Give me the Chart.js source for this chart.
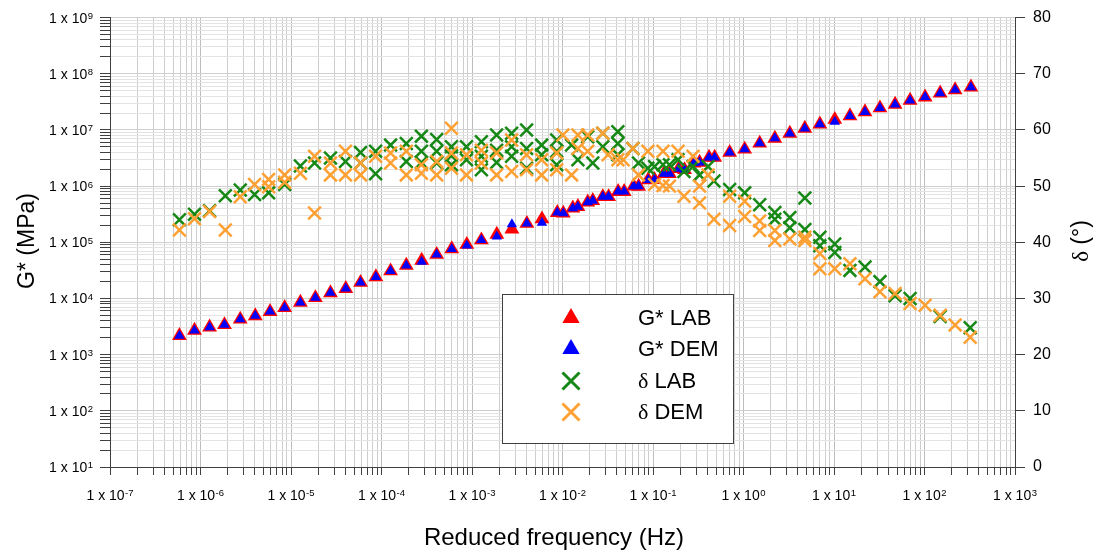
<!DOCTYPE html>
<html><head><meta charset="utf-8">
<script src="https://cdn.jsdelivr.net/npm/chart.js@4/dist/chart.umd.min.js"></script>
<style>html,body{margin:0;padding:0;background:#fff;}#wrap{width:1102px;height:553px;position:relative;}</style>
</head><body><div id="wrap"><canvas id="c" width="1102" height="553"></canvas></div>
<script>
// ---- tick definitions ----
const xDecades = [-7,-6,-5,-4,-3,-2,-1,0,1,2,3];
const yDecades = [1,2,3,4,5,6,7,8,9];
const minorMultipliers = [2,3,4,5,6,7,8,9];
const deltaTicks = [0,10,20,30,40,50,60,70,80];

// ---- G* data (MPa) ----
const freqG = [5.85e-7,8.58e-7,1.26e-6,1.84e-6,2.75e-6,4.03e-6,5.87e-6,8.51e-6,1.27e-5,1.86e-5,
  2.73e-5,4.03e-5,5.87e-5,8.67e-5,1.26e-4,1.88e-4,2.78e-4,4.07e-4,5.97e-4,8.76e-4,
  1.27e-3,1.88e-3,2.76e-3,4.04e-3,5.93e-3,8.76e-3,1.02e-2,1.30e-2,1.48e-2,1.90e-2,
  2.16e-2,2.79e-2,3.23e-2,4.12e-2,4.80e-2,6.11e-2,6.94e-2,8.85e-2,0.104,0.132,
  0.152,0.192,0.223,0.284,0.327,0.416,0.480,0.703,1.03,1.51,
  2.22,3.25,4.76,6.98,10.2,15.0,22.0,32.2,47.3,69.3,
  101.5,149,218,326];
const gLab = [2180,2700,3090,3400,4270,4910,5840,6870,8520,10300,
  12600,15000,19200,24200,30800,38800,47600,60700,76200,91100,
  109800,138000,171600,216000,259500,337800,328400,405400,430800,517300,
  549700,646600,646600,798400,798400,998000,990000,1289000,1305000,1664000,
  1664000,2039000,1957000,2568000,2642000,3237000,3237000,3965000,4533000,5783000,
  7084000,8677000,10630000,12650000,15310000,17790000,20930000,24610000,28490000,33510000,
  38460000,45240000,51730000,57700000];
const gDem = [2180,2700,3090,3400,4270,4910,5840,6870,8520,10300,
  12600,15000,19200,24200,30800,38800,45000,60700,76200,88000,
  109800,127000,210000,216000,222000,337800,328400,405400,430800,517300,
  549700,646600,646600,798400,798400,998000,990000,1289000,1305000,1664000,
  1664000,2039000,1957000,2568000,2642000,3237000,3237000,3965000,4533000,5783000,
  7084000,8677000,10630000,12650000,14000000,17790000,20930000,24610000,28490000,33510000,
  38460000,45240000,51730000,57700000];

// ---- phase angle data (deg) ----
const freqDLab = [5.85e-7,8.58e-7,1.26e-6,1.88e-6,2.75e-6,3.96e-6,5.66e-6,8.51e-6,1.27e-5,1.82e-5,
  2.73e-5,4.0e-5,5.87e-5,5.87e-5,8.6e-5,8.6e-5,1.26e-4,1.88e-4,1.88e-4,2.76e-4,
  2.76e-4,2.76e-4,4.07e-4,4.07e-4,4.07e-4,5.93e-4,5.93e-4,5.93e-4,8.69e-4,8.69e-4,
  1.27e-3,1.27e-3,1.27e-3,1.87e-3,1.87e-3,1.87e-3,2.74e-3,2.74e-3,2.74e-3,4.01e-3,
  4.01e-3,4.01e-3,5.88e-3,5.88e-3,8.63e-3,8.63e-3,8.63e-3,1.26e-2,1.48e-2,1.9e-2,
  2.16e-2,2.79e-2,2.79e-2,4.09e-2,4.09e-2,4.09e-2,5.99e-2,6.91e-2,8.78e-2,0.104,
  0.129,0.152,0.189,0.22,0.277,0.327,0.406,0.472,0.703,1.03,
  1.51,2.22,2.22,3.25,3.25,4.76,4.76,6.98,6.98,10.2,
  10.2,15.0,22.0,32.2,47.3,69.3,149,320];
const deltaLab = [44.0,45.0,45.6,48.3,49.3,48.5,48.8,50.3,53.6,54.1,
  55.0,54.4,56.0,54.1,56.2,52.2,57.3,57.6,54.4,58.9,
  56.2,54.2,58.3,56.2,54.1,57.0,55.4,53.8,57.0,54.7,
  57.9,55.3,52.9,59.1,56.4,54.2,59.4,57.0,55.3,60.0,
  56.7,53.2,57.3,55.6,58.2,56.2,53.8,57.3,54.7,58.8,
  54.1,59.4,57.0,59.7,57.6,55.6,56.7,54.1,53.2,53.5,
  53.8,53.8,54.7,52.6,53.5,52.0,53.5,50.9,49.4,48.8,
  46.7,45.3,44.1,44.4,42.6,47.9,42.3,40.9,39.4,39.7,
  38.2,35.0,35.6,33.0,30.5,30.0,26.8,24.8];
const freqDDem = [5.85e-7,8.58e-7,1.26e-6,1.88e-6,2.75e-6,3.96e-6,5.66e-6,5.66e-6,8.51e-6,8.51e-6,
  1.27e-5,1.82e-5,1.82e-5,2.73e-5,2.73e-5,4.0e-5,4.0e-5,5.87e-5,5.87e-5,8.6e-5,
  1.26e-4,1.26e-4,1.88e-4,1.88e-4,2.76e-4,2.76e-4,4.07e-4,4.07e-4,5.93e-4,5.93e-4,
  5.93e-4,8.69e-4,8.69e-4,1.27e-3,1.27e-3,1.87e-3,1.87e-3,2.74e-3,2.74e-3,4.01e-3,
  4.01e-3,5.88e-3,5.88e-3,8.63e-3,8.63e-3,1.01e-2,1.26e-2,1.48e-2,1.48e-2,1.9e-2,
  1.9e-2,2.79e-2,3.19e-2,4.09e-2,4.68e-2,5.99e-2,6.91e-2,8.78e-2,0.104,0.129,
  0.129,0.152,0.189,0.22,0.277,0.327,0.327,0.406,0.472,0.703,
  0.703,1.03,1.03,1.51,1.51,2.22,2.22,3.25,4.76,4.76,
  6.98,6.98,10.2,15.0,22.0,32.2,47.3,69.3,101.5,149,
  218,320];
const deltaDem = [42.2,44.2,45.5,42.2,48.1,50.3,51.2,49.9,52.0,50.7,
  52.3,55.3,45.2,54.1,52.0,56.2,52.0,54.1,52.0,55.3,
  55.9,54.1,56.2,52.0,53.8,52.3,54.4,52.0,60.3,55.9,
  53.2,55.6,52.0,56.4,54.1,55.9,52.0,58.2,52.6,55.6,
  52.9,54.7,52.0,55.9,52.9,59.1,52.0,59.1,56.7,59.1,
  56.2,59.4,55.6,54.7,54.7,56.7,52.0,56.2,50.3,56.2,
  50.1,50.0,56.2,48.2,55.3,47.0,50.0,52.0,44.1,48.2,
  43.0,47.3,44.6,43.8,42.1,42.1,40.3,40.6,40.9,40.3,
  38.0,35.3,35.3,36.2,33.5,31.2,30.9,29.1,28.8,27.0,
  25.3,23.1];

const seriesLabels = ['G* LAB','G* DEM','δ LAB','δ DEM'];
const xTitle = 'Reduced frequency (Hz)';
const yTitle = 'G* (MPa)';
const y2Title = 'δ (°)';

// ---- styles ----
const RED = '#ff0000', BLUE = '#0000ff', GREEN = '#168816', ORANGE = '#ffa033';
const AXIS = '#404040';
const SANS = '"Liberation Sans", Arial, sans-serif';
const SERIF = '"Liberation Serif", "Times New Roman", serif';

function pairs(xs, ys){ return xs.map((x,i)=>({x:x, y:ys[i]})); }
function logTicks(decades){
  const t = [];
  decades.forEach((e,i)=>{
    const b = Math.pow(10,e);
    t.push({value:b, major:true});
    if (i < decades.length-1) minorMultipliers.forEach(m=>t.push({value:m*b, major:false}));
  });
  return t;
}

function drawPow(ctx, exp, x, y, align){
  const base = '1 x 10', sup = String(exp);
  ctx.font = '14px ' + SANS; const wb = ctx.measureText(base).width;
  ctx.font = '9.5px ' + SANS; const ws = ctx.measureText(sup).width;
  const total = wb + 0.5 + ws;
  const sx = align === 'right' ? x - total : x - total/2;
  ctx.textAlign = 'left'; ctx.textBaseline = 'alphabetic'; ctx.fillStyle = '#000';
  ctx.font = '14px ' + SANS; ctx.fillText(base, sx, y);
  ctx.font = '9.5px ' + SANS; ctx.fillText(sup, sx + wb + 0.5, y - 3.6);
}
function drawMixed(ctx, text, x, y, size, align){
  const parts = [];
  for (const ch of text){
    const f = ch === 'δ' ? SERIF : SANS;
    if (parts.length && parts[parts.length-1].f === f) parts[parts.length-1].t += ch;
    else parts.push({t:ch, f:f});
  }
  let w = 0;
  parts.forEach(p=>{ ctx.font = size + 'px ' + p.f; p.w = ctx.measureText(p.t).width; w += p.w; });
  let sx = align === 'center' ? x - w/2 : x;
  ctx.textAlign = 'left';
  parts.forEach(p=>{ ctx.font = size + 'px ' + p.f; ctx.fillText(p.t, sx, y); sx += p.w; });
}

const decorPlugin = {
  id: 'decor',
  afterDraw(chart){
    const ctx = chart.ctx, xs = chart.scales.x, ys = chart.scales.y;
    ctx.save();
    yDecades.forEach(e=>{ drawPow(ctx, e, 93, ys.getPixelForValue(Math.pow(10,e)) + 5, 'right'); });
    xDecades.forEach(e=>{ drawPow(ctx, e, xs.getPixelForValue(Math.pow(10,e)), 500, 'center'); });
    ctx.fillStyle = '#000'; ctx.textBaseline = 'middle';
    ctx.font = '24px ' + SANS; ctx.textAlign = 'center';
    ctx.fillText(xTitle, 554, 538);
    ctx.save(); ctx.translate(28, 241); ctx.rotate(-Math.PI/2);
    ctx.font = '23px ' + SANS; ctx.fillText(yTitle, 0, 0); ctx.restore();
    ctx.save(); ctx.translate(1082, 241); ctx.rotate(-Math.PI/2);
    drawMixed(ctx, y2Title, 0, 0, 23, 'center'); ctx.restore();
    // legend box
    const lx = 502.5, ly = 294.5, lw = 231, lh = 149;
    ctx.fillStyle = '#fff'; ctx.fillRect(lx, ly, lw, lh);
    ctx.strokeStyle = AXIS; ctx.lineWidth = 1; ctx.strokeRect(lx, ly, lw, lh);
    const rowsY = [318, 349, 381, 412];
    const mx = 571, tx = 638;
    chart.data.datasets.forEach(ds=>{
      const i = seriesLabels.indexOf(ds.label);
      const y = rowsY[i];
      if (ds.pointStyle === 'triangle'){
        const r = 10;
        ctx.beginPath();
        ctx.moveTo(mx, y - r);
        ctx.lineTo(mx + r*0.866, y + r*0.5);
        ctx.lineTo(mx - r*0.866, y + r*0.5);
        ctx.closePath();
        ctx.fillStyle = ds.backgroundColor; ctx.fill();
      } else {
        const h = 8.5;
        ctx.beginPath();
        ctx.moveTo(mx - h, y - h); ctx.lineTo(mx + h, y + h);
        ctx.moveTo(mx + h, y - h); ctx.lineTo(mx - h, y + h);
        ctx.strokeStyle = ds.borderColor; ctx.lineWidth = 3; ctx.stroke();
      }
      ctx.fillStyle = '#000'; ctx.textBaseline = 'middle';
      drawMixed(ctx, ds.label, tx, y + 1, 22, 'left');
    });
    ctx.restore();
  }
};

const xTickList = logTicks(xDecades);
const yTickList = logTicks(yDecades);

new Chart(document.getElementById('c'), {
  type: 'scatter',
  data: {
    datasets: [
      {label: seriesLabels[3], data: pairs(freqDDem, deltaDem), yAxisID: 'y2', pointStyle: 'crossRot',
       pointRadius: 9, borderColor: ORANGE, backgroundColor: ORANGE, borderWidth: 2.5},
      {label: seriesLabels[2], data: pairs(freqDLab, deltaLab), yAxisID: 'y2', pointStyle: 'crossRot',
       pointRadius: 9, borderColor: GREEN, backgroundColor: GREEN, borderWidth: 2.5},
      {label: seriesLabels[1], data: pairs(freqG, gDem), yAxisID: 'y', pointStyle: 'triangle',
       pointRadius: 6, borderWidth: 0, backgroundColor: BLUE, borderColor: BLUE},
      {label: seriesLabels[0], data: pairs(freqG, gLab), yAxisID: 'y', pointStyle: 'triangle',
       pointRadius: 8.6, borderWidth: 0, backgroundColor: RED, borderColor: RED}
    ]
  },
  options: {
    responsive: false, animation: false, devicePixelRatio: 1,
    layout: {padding: {top: 13, left: 0, right: 0, bottom: 0}},
    plugins: {legend: {display: false}, tooltip: {enabled: false}},
    scales: {
      x: {
        type: 'logarithmic', position: 'bottom', min: 1e-7, max: 1e3,
        afterBuildTicks: s => { s.ticks = xTickList.map(t=>({value:t.value, major:t.major})); },
        afterFit: s => { s.height = 86; },
        ticks: {display: false, autoSkip: false},
        grid: {color: c => (c.tick && c.tick.major) ? '#bdbdbd' : '#cdcdcd', lineWidth: 1,
               drawTicks: true, tickLength: 8, tickColor: AXIS, tickWidth: 1},
        border: {display: true, color: AXIS, width: 1}
      },
      y: {
        type: 'logarithmic', position: 'left', min: 10, max: 1e9,
        afterBuildTicks: s => { s.ticks = yTickList.map(t=>({value:t.value, major:t.major})); },
        afterFit: s => { s.width = 110; },
        ticks: {display: false, autoSkip: false},
        grid: {color: c => (c.tick && c.tick.major) ? '#cfcfcf' : '#e3e3e3', lineWidth: 1,
               drawTicks: true, tickLength: 10, tickColor: AXIS, tickWidth: 1},
        border: {display: true, color: AXIS, width: 1}
      },
      y2: {
        type: 'linear', position: 'right', min: 0, max: 80,
        afterBuildTicks: s => { s.ticks = deltaTicks.map(v=>({value:v})); },
        afterFit: s => { s.width = 87; },
        ticks: {display: true, autoSkip: false, color: '#000', padding: 8,
                font: {family: 'Liberation Sans', size: 16}},
        grid: {drawOnChartArea: false, drawTicks: true, tickLength: 10, tickColor: AXIS, tickWidth: 1},
        border: {display: true, color: AXIS, width: 1}
      }
    }
  },
  plugins: [decorPlugin]
});
</script>
</body></html>
